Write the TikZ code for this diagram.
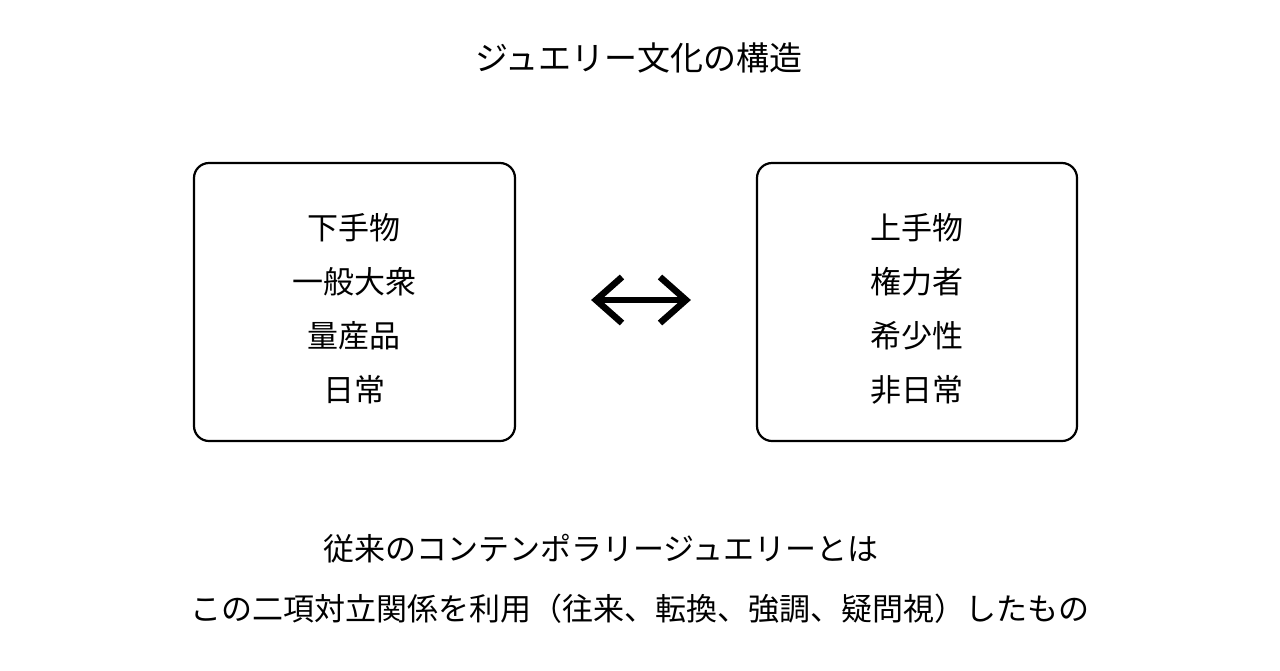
\documentclass[tikz,border=0pt]{standalone}
\usepackage{fontspec}
\usetikzlibrary{calc}
\setmainfont{Noto Sans CJK JP}
\begin{document}
\begin{tikzpicture}[x=1pt,y=-1pt,
  box/.style={draw=black,line width=2.2pt,rounded corners=15pt},
  txt/.style={font=\fontsize{31}{54}\selectfont,align=center,inner sep=0pt},
  arr/.style={line width=6.5pt}]
\useasboundingbox (0,0) rectangle (1280,670);
\fill[white] (0,0) rectangle (1280,670);
\node[font=\fontsize{33}{40}\selectfont,inner sep=0pt] (title) at (639,58) {ジュエリー文化の構造};
\draw[box] (194,163) rectangle (515,441);
\draw[box] (757,163) rectangle (1077,441);
\coordinate (lb) at (354,309);
\coordinate (rb) at (917,309);
\node[txt] (left) at (lb) {下手物\\一般大衆\\量産品\\日常};
\node[txt] (right) at (rb) {上手物\\権力者\\希少性\\非日常};
\coordinate (al) at (596,300);
\coordinate (ar) at (686,300);
\draw[arr] (al) -- (ar);
\draw[arr,line join=miter] ($(al)+(26,-23)$) -- (al) -- ($(al)+(26,23)$);
\draw[arr,line join=miter] ($(ar)+(-26,-23)$) -- (ar) -- ($(ar)+(-26,23)$);
\node[txt] (l1) at (601,549) {従来のコンテンポラリージュエリーとは};
\node[txt] (l2) at (640,609) {この二項対立関係を利用（往来、転換、強調、疑問視）したもの};
\end{tikzpicture}
\end{document}
